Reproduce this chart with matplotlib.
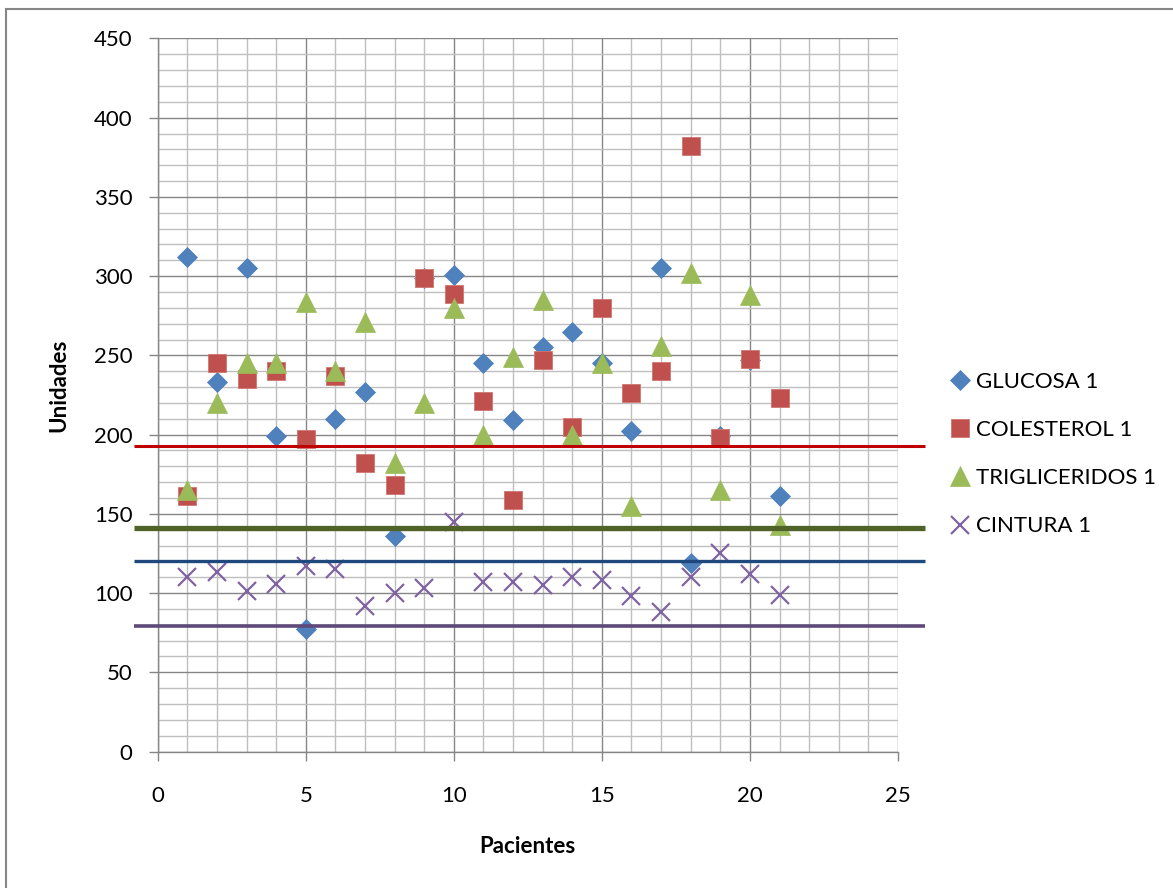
import matplotlib
matplotlib.use("Agg")
import matplotlib.pyplot as plt
from matplotlib.ticker import MultipleLocator
from matplotlib.patches import Rectangle

plt.rcParams['font.family'] = ['Lato', 'DejaVu Sans']

pacientes = list(range(1, 22))
glucosa = [312, 233, 305, 199, 77, 210, 227, 136, 299, 301, 245, 209, 255, 265, 245, 202, 305, 119, 199, 247, 161]
colesterol = [161, 245, 235, 240, 197, 237, 182, 168, 299, 289, 221, 159, 247, 205, 280, 226, 240, 382, 198, 248, 223]
trigliceridos = [165, 220, 245, 245, 284, 240, 271, 182, 220, 280, 200, 249, 285, 200, 245, 155, 256, 302, 165, 288, 143]
cintura = [110, 113, 101, 106, 117, 115, 92, 100, 103, 145, 107, 107, 105, 110, 108, 98, 88, 110, 125, 112, 99]

series_names = ["GLUCOSA 1", "COLESTEROL 1", "TRIGLICERIDOS 1", "CINTURA 1"]

# reference lines (limits)
ref_x = [-0.8, 25.9]
ref_values = [193, 141, 120, 79]
ref_colors = ["#C00000", "#4F6228", "#1F497D", "#5F497A"]
ref_widths = [2.2, 3.8, 2.4, 2.6]

W, H = 1173, 888
fig = plt.figure(figsize=(W / 100, H / 100), dpi=100)
left, right, top, bottom = 157.7, 898.0, 38.5, 751.5
ax = fig.add_axes([left / W, 1 - bottom / H, (right - left) / W, (bottom - top) / H])

ax.set_xlim(0, 25)
ax.set_ylim(0, 450)
ax.xaxis.set_major_locator(MultipleLocator(5))
ax.xaxis.set_minor_locator(MultipleLocator(1))
ax.yaxis.set_major_locator(MultipleLocator(50))
ax.yaxis.set_minor_locator(MultipleLocator(10))
ax.grid(True, which='minor', color='#BFBFBF', linewidth=1.0, zorder=0)
ax.grid(True, which='major', color='#868686', linewidth=1.0, zorder=0.5)
ax.set_axisbelow(True)

for s in ['top', 'right']:
    ax.spines[s].set_visible(False)
for s in ['left', 'bottom']:
    ax.spines[s].set_color('#868686')
    ax.spines[s].set_linewidth(1.0)

ax.tick_params(axis='both', which='major', direction='out', length=6.5, width=1.0,
               color='#868686', labelsize=16, labelcolor='black')
ax.tick_params(axis='y', which='major', pad=11.5)
ax.tick_params(axis='x', which='major', pad=18)
ax.tick_params(which='minor', length=0)

ax.plot(pacientes, glucosa, linestyle='none', marker='D', markersize=10.5,
        color='#4F81BD', markeredgecolor='#4A7EBB', markeredgewidth=0.5, zorder=3, label=series_names[0])
ax.plot(pacientes, colesterol, linestyle='none', marker='s', markersize=13.5,
        color='#C0504D', markeredgecolor='#D07570', markeredgewidth=0.6, zorder=4, label=series_names[1])
ax.plot(pacientes, trigliceridos, linestyle='none', marker='^', markersize=14.5,
        color='#9BBB59', markeredgecolor='#9BBB59', markeredgewidth=0.5, zorder=5, label=series_names[2])
ax.plot(pacientes, cintura, linestyle='none', marker='x', markersize=13.5,
        color='#8064A2', markeredgewidth=1.6, zorder=6, label=series_names[3])

for v, c, lw in zip(ref_values, ref_colors, ref_widths):
    ax.plot(ref_x, [v, v], color=c, linewidth=lw, solid_capstyle='butt', zorder=7, clip_on=False)

ax.set_xlabel('Pacientes', fontsize=16, fontweight='bold')
ax.set_ylabel('Unidades', fontsize=16, fontweight='bold')
ax.xaxis.set_label_coords(0.5, (bottom - 836) / (bottom - top), transform=ax.transAxes)
ax.yaxis.set_label_coords((69 - left) / (right - left), (bottom - 385) / (bottom - top), transform=ax.transAxes)

fig.legend(loc='center left', bbox_to_anchor=(949 / W, 1 - 454 / H), frameon=False,
           fontsize=16, handlelength=0.95, handletextpad=0.25, labelspacing=1.27,
           borderpad=0, borderaxespad=0, numpoints=1)

# outer chart border
fig.patches.append(Rectangle((6 / W, -0.1), 1.2, 1 - 9.5 / H + 0.1, transform=fig.transFigure,
                             fill=False, edgecolor='#868686', linewidth=1.5))

fig.savefig('out.png', dpi=100)
